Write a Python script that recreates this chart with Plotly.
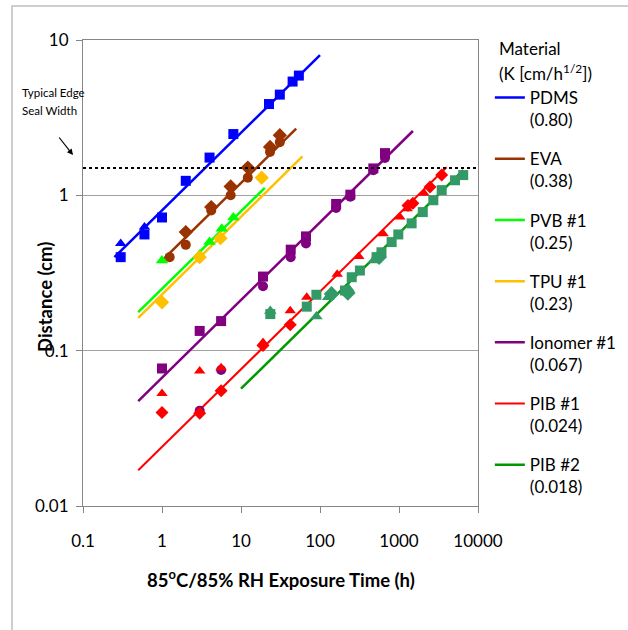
import plotly.graph_objects as go
import numpy as np

# ---------------- data ----------------
materials = ["PDMS", "EVA", "PVB #1", "TPU #1", "Ionomer #1", "PIB #1", "PIB #2"]
k_values = [0.80, 0.38, 0.25, 0.23, 0.067, 0.024, 0.018]
k_labels = ["0.80", "0.38", "0.25", "0.23", "0.067", "0.024", "0.018"]
fit_t_start = [0.25, 1.0, 0.5, 0.5, 0.5, 0.5, 10]
fit_t_end = [100, 50, 20, 60, 1500, 4000, 6500]

pdms_sq_t = [0.3, 0.6, 1.0, 2.0, 4.0, 8.0, 22.6, 31, 45, 54]
pdms_sq_d = [0.40, 0.56, 0.72, 1.24, 1.75, 2.48, 3.87, 4.45, 5.4, 5.9]
pdms_tri_t = [0.3, 0.6]
pdms_tri_d = [0.49, 0.625]

eva_ci_t = [1.25, 2.0, 4.2, 7.4, 12.2, 23.3, 31]
eva_ci_d = [0.40, 0.48, 0.80, 1.0, 1.30, 1.90, 2.2]
eva_di_t = [2.0, 4.2, 7.4, 12.2, 23.3, 31]
eva_di_d = [0.58, 0.84, 1.14, 1.51, 2.05, 2.44]

pvb_t = [1.0, 3.0, 4.0, 5.7, 8.0]
pvb_d = [0.38, 0.416, 0.50, 0.61, 0.72]

tpu_t = [1.0, 3.0, 5.5, 18.3]
tpu_d = [0.205, 0.40, 0.53, 1.30]

iono_sq_t = [1.0, 3.0, 5.6, 19, 42.6, 66.5, 160, 242, 473, 665]
iono_sq_d = [0.0768, 0.134, 0.155, 0.30, 0.447, 0.544, 0.88, 1.01, 1.49, 1.87]
iono_ci_t = [3.0, 5.6, 19, 42.6, 66.5, 160, 242, 473, 665]
iono_ci_d = [0.041, 0.075, 0.26, 0.40, 0.49, 0.83, 0.98, 1.45, 1.74]

pib1_tri_t = [1.0, 3.0, 5.6, 19, 42, 68, 165, 310, 630, 1025, 1270, 2070]
pib1_tri_d = [0.053, 0.074, 0.0775, 0.113, 0.181, 0.221, 0.31, 0.404, 0.566, 0.724, 0.82, 1.03]
pib1_di_t = [1.0, 3.0, 5.6, 19, 42, 1300, 1500, 2470, 3470]
pib1_di_d = [0.040, 0.0395, 0.0552, 0.108, 0.147, 0.86, 0.89, 1.13, 1.35]

pib2_sq_t = [23.5, 68, 90, 207, 252, 320, 520, 600, 807, 980, 1445, 2000, 2720, 3470, 5120, 6500]
pib2_sq_d = [0.172, 0.192, 0.229, 0.244, 0.297, 0.328, 0.40, 0.43, 0.50, 0.56, 0.66, 0.78, 0.93, 1.08, 1.25, 1.35]
pib2_tri_t = [23.5, 90, 127, 230, 480]
pib2_tri_d = [0.18, 0.166, 0.221, 0.25, 0.38]
pib2_di_t = [140, 225, 560]
pib2_di_d = [0.232, 0.235, 0.40]

edge_seal_width = 1.5

x_tick_vals = [0.1, 1, 10, 100, 1000, 10000]
x_tick_text = ["0.1", "1", "10", "100", "1000", "10000"]
y_tick_vals = [0.01, 0.1, 1, 10]
y_tick_text = ["0.01", "0.1", "1", "10"]

line_colors = ["#0000FF", "#993300", "#00FF00", "#FFC000", "#800080", "#FF0000", "#009900"]
marker_colors = ["#0000FF", "#993300", "#00FF00", "#FFC000", "#800080", "#FF0000", "#339966"]

FONT = "Lato"

fig = go.Figure()

# fit lines (legend entries)
for i, (name, k) in enumerate(zip(materials, k_values)):
    t = np.logspace(np.log10(fit_t_start[i]), np.log10(fit_t_end[i]), 50)
    fig.add_trace(go.Scatter(
        x=t, y=k * np.sqrt(t), mode="lines",
        line=dict(color=line_colors[i], width=2.5 if i != 5 else 2),
        name=f"{name}<br>({k_labels[i]})", legendgroup=name, showlegend=True,
        hoverinfo="skip"))


def pts(t, d, color, symbol, size=10):
    fig.add_trace(go.Scatter(x=t, y=d, mode="markers", showlegend=False,
                             marker=dict(color=color, symbol=symbol, size=size,
                                         line=dict(width=0))))


pts(pdms_sq_t, pdms_sq_d, marker_colors[0], "square")
pts(pdms_tri_t, pdms_tri_d, marker_colors[0], "triangle-up")
pts(eva_ci_t, eva_ci_d, marker_colors[1], "circle")
pts(eva_di_t, eva_di_d, marker_colors[1], "diamond", 11)
pts(pvb_t, pvb_d, marker_colors[2], "triangle-up", 11)
pts(tpu_t, tpu_d, marker_colors[3], "diamond", 11)
pts(iono_ci_t, iono_ci_d, marker_colors[4], "circle")
pts(iono_sq_t, iono_sq_d, marker_colors[4], "square")
pts(pib1_tri_t, pib1_tri_d, marker_colors[5], "triangle-up")
pts(pib1_di_t, pib1_di_d, marker_colors[5], "diamond", 10)
pts(pib2_tri_t, pib2_tri_d, marker_colors[6], "triangle-up", 11)
pts(pib2_di_t, pib2_di_d, marker_colors[6], "diamond", 12)
pts(pib2_sq_t, pib2_sq_d, marker_colors[6], "square")

# typical edge seal width dotted line
fig.add_shape(type="line", xref="paper", x0=0, x1=1, yref="y",
              y0=edge_seal_width, y1=edge_seal_width,
              line=dict(color="black", width=2, dash="dot"))

# outer chart border
fig.add_shape(type="rect", xref="paper", yref="paper",
              x0=(12 - 83) / 395, x1=1.5, y0=-0.3, y1=(506 - 6) / 466,
              line=dict(color="#BFBFBF", width=1.5), layer="below")

axis_common = dict(showline=True, linecolor="#868686", linewidth=1, mirror=True,
                   ticks="outside", ticklen=6, tickcolor="#868686",
                   tickfont=dict(family=FONT, size=17, color="black"),
                   zeroline=False)

fig.update_xaxes(type="log", range=[-1, 4], tickvals=x_tick_vals, ticktext=x_tick_text,
                 showgrid=False, ticklabelstandoff=14, **axis_common)
fig.update_yaxes(type="log", range=[-2, 1], tickvals=y_tick_vals, ticktext=y_tick_text,
                 showgrid=True, gridcolor="#A0A0A0", gridwidth=1,
                 ticklabelstandoff=4, **axis_common)


def ann(xpx, ypx, text, size, xanchor="left", **kw):
    fig.add_annotation(xref="paper", yref="paper", x=(xpx - 83) / 395, y=(506 - ypx) / 466,
                       xanchor=xanchor, yanchor="middle", text=text, showarrow=False,
                       font=dict(family=FONT, size=size, color="black"), **kw)


ann(45, 297, "<b>Distance (cm)</b>", 18.5, xanchor="center", textangle=-90)
ann(280.5, 578, "<b>85<sup>o</sup>C/85% RH Exposure Time (h)</b>", 18.5, xanchor="center")
ann(20, 93, "Typical Edge", 11.5)
ann(20, 111, "Seal Width", 11.5)
ann(497, 48, "Material", 17)
ann(497, 72, "(K [cm/h<sup>1/2</sup>])", 17)

fig.add_annotation(xref="paper", yref="paper", x=(73 - 83) / 395, y=(506 - 155) / 466,
                   text="", showarrow=True, ax=-15, ay=-19, arrowhead=2,
                   arrowsize=1, arrowwidth=1.2, arrowcolor="black")

fig.update_layout(
    width=628, height=630,
    margin=dict(l=83, r=150, t=40, b=124, autoexpand=False),
    paper_bgcolor="white", plot_bgcolor="white",
    font=dict(family=FONT, size=17, color="black"),
    legend=dict(x=1.03, xanchor="left", y=(506 - 80) / 466, yanchor="top",
                font=dict(family=FONT, size=17, color="black"),
                tracegroupgap=14, itemwidth=30, valign="top",
                bgcolor="rgba(0,0,0,0)"),
    showlegend=True,
)

fig.write_html("out.html", config={"displayModeBar": False},
               post_script="document.body.style.margin='0px';")
